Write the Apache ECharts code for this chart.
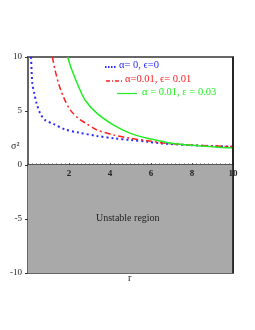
<!DOCTYPE html>
<html><head><meta charset="utf-8">
<script src="https://cdn.jsdelivr.net/npm/echarts@6/dist/echarts.min.js"></script>
<style>html,body{margin:0;padding:0;background:#fff}#c{width:255px;height:330px}</style>
</head><body><div id="c"></div>
<script>
var yTicks = [-10, -5, 0, 5, 10];
var xTicks = [2, 4, 6, 8, 10];
var blueR = [0.15,0.21,0.31,0.42,0.59,0.83,1.24,1.81,2.47,3.37,4.18,5,5.82,6.47,7,8,9,10];
var blueS = [10,7.56,6.6,5.7,4.8,4.17,3.8,3.3,3.0,2.69,2.47,2.31,2.16,2.0,1.94,1.83,1.75,1.7];
var redR = [1.19,1.32,1.49,1.73,2.06,2.47,2.79,3.37,4.18,5,5.82,6.47,7,8,9,10];
var redS = [10,8.8,7.56,6.3,5.1,4.3,3.9,3.24,2.78,2.47,2.25,2.07,1.97,1.84,1.76,1.7];
var greenR = [1.93,2.14,2.47,2.79,3.37,4.18,5,5.82,6.47,7,8,9,10];
var greenS = [10,8.8,7.25,6.0,4.78,3.7,2.93,2.47,2.22,2.02,1.82,1.68,1.57];
var legendNames = ['\u03b1= 0, \u03f5=0', '\u03b1=0.01, \u03f5= 0.01', '\u03b1 = 0.01, \u03b5 = 0.03'];
var regionLabel = 'Unstable region';

function zip(a, b){ return a.map(function(v,i){ return [v, b[i]]; }); }
var font = 'Liberation Serif';
var chart = echarts.init(document.getElementById('c'), null, {renderer:'canvas'});
chart.setOption({
  animation:false,
  grid:{left:28, right:22, top:57, bottom:57, show:true, borderColor:'#666', borderWidth:2, backgroundColor:'transparent'},
  xAxis:{type:'value', min:0, max:10, interval:2,
    axisLine:{onZero:true, lineStyle:{color:'#555', width:2}},
    axisTick:{show:true, inside:true, length:2, lineStyle:{color:'#444'}},
    minorTick:{show:true, splitNumber:10, length:1.5, lineStyle:{color:'#555'}},
    splitLine:{show:false},
    axisLabel:{show:false}
  },
  yAxis:{type:'value', min:-10, max:10, interval:5,
    axisLine:{show:true, onZero:false, lineStyle:{color:'#666', width:2}},
    axisTick:{show:true, length:3, lineStyle:{color:'#333'}},
    splitLine:{show:false},
    axisLabel:{fontFamily:font, fontSize:9, color:'#222', margin:6,
      formatter:function(v){ return yTicks.indexOf(v) >= 0 ? String(v) : ''; }}
  },
  series:[
    {type:'line', data:[], silent:true, z:1,
      markArea:{silent:true, itemStyle:{color:'#a9a9a9'},
        label:{show:false},
        data:[[{coord:[0,-10]},{coord:[10,0]}]]}},
    {type:'line', name:legendNames[0], data:zip(blueR, blueS), smooth:0.3, showSymbol:false,
      lineStyle:{color:'#2a2aff', width:2, type:[2,3]}},
    {type:'line', name:legendNames[1], data:zip(redR, redS), smooth:0.3, showSymbol:false,
      lineStyle:{color:'#ff2020', width:1.5, type:[6,3,2,3]}},
    {type:'line', name:legendNames[2], data:zip(greenR, greenS), smooth:0.3, showSymbol:false,
      lineStyle:{color:'#22ee22', width:1.5}}
  ]
});
var g = [
  {type:'line', shape:{x1:233,y1:57,x2:233,y2:273}, style:{stroke:'#111', lineWidth:1.5}, z:100},
  {type:'line', shape:{x1:105,y1:67,x2:117,y2:67}, style:{stroke:'#2a2aff', lineWidth:2, lineDash:[1.5,1.5]}, z:100},
  {type:'text', left:119, top:60, style:{text:legendNames[0], fill:'#2a2aff', font:'10.5px "Liberation Serif"'}, z:100},
  {type:'line', shape:{x1:106,y1:81,x2:124,y2:81}, style:{stroke:'#ff2020', lineWidth:1.5, lineDash:[4,2,1,2]}, z:100},
  {type:'text', left:125, top:74, style:{text:legendNames[1], fill:'#ff2020', font:'10.5px "Liberation Serif"'}, z:100},
  {type:'line', shape:{x1:117,y1:93.5,x2:137,y2:93.5}, style:{stroke:'#22ee22', lineWidth:1.2}, z:100},
  {type:'text', left:142, top:87, style:{text:legendNames[2], fill:'#22ee22', font:'10.5px "Liberation Serif"'}, z:100},
  {type:'text', left:96, top:213, style:{text:regionLabel, fill:'#222', font:'10px "Liberation Serif"'}, z:100},
  {type:'text', left:11, top:141, style:{text:'\u03c3\u00b2', fill:'#222', font:'10px "Liberation Serif"'}, z:100},
  {type:'text', left:128, top:273, style:{text:'r', fill:'#222', font:'10px "Liberation Serif"'}, z:100}
];
xTicks.forEach(function(v){
  var p = chart.convertToPixel({gridIndex:0}, [v, 0]);
  g.push({type:'text', x:p[0], y:p[1]+4, z:100,
    style:{text:String(v), fill:'#222', font:'bold 9px "Liberation Serif"', align:'center', verticalAlign:'top'}});
});
chart.setOption({graphic:g});
</script></body></html>
